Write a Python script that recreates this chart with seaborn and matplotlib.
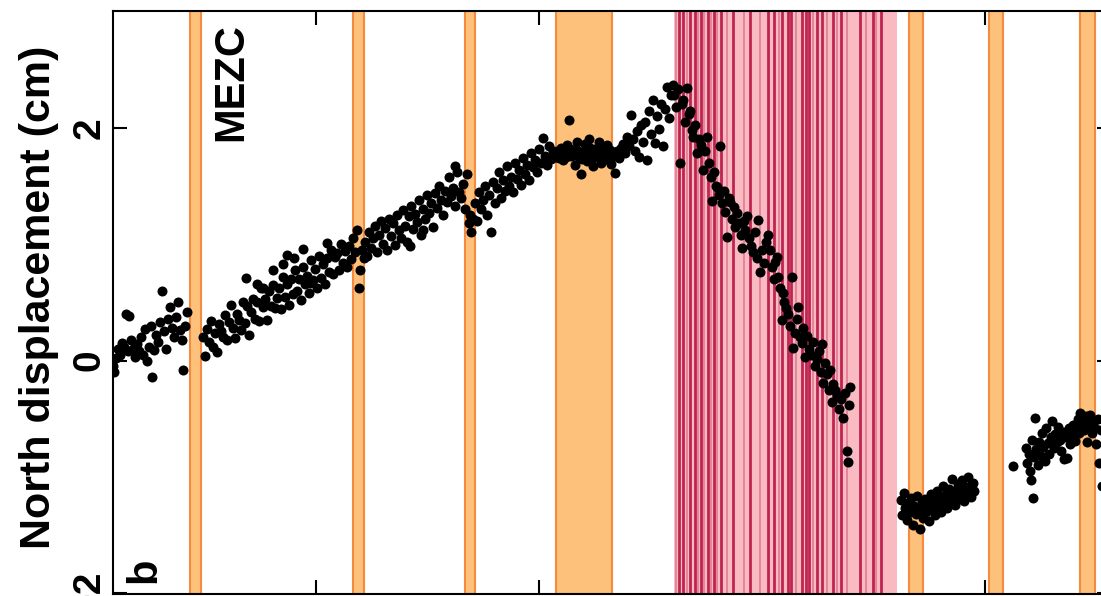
import pandas as pd
import seaborn as sns
import matplotlib.pyplot as plt

# GPS station MEZC, north component (cm) against day of record
seg_a = [(0, -0.05), (1, -0.10), (3, 0.02), (5, 0.10), (7, 0.05), (9, 0.15), (11, 0.12), (13, 0.40),
         (15, 0.08), (16, 0.38), (18, 0.18), (20, 0.10), (22, 0.03), (24, 0.14), (26, 0.08), (28, 0.20),
         (30, 0.05), (32, 0.27), (34, 0.00), (36, 0.12), (38, 0.30), (39, -0.14), (41, 0.09), (43, 0.22),
         (45, 0.16), (47, 0.33), (49, 0.60), (51, 0.25), (53, 0.10), (55, 0.36), (57, 0.46), (59, 0.28),
         (61, 0.20), (63, 0.37), (65, 0.50), (67, 0.26), (69, 0.18), (70, -0.08), (72, 0.30), (74, 0.42)]

seg_b = [(90, 0.20), (92, 0.04), (94, 0.27), (96, 0.16), (98, 0.34), (100, 0.12), (102, 0.24), (104, 0.07),
         (106, 0.31), (108, 0.25), (110, 0.20), (112, 0.39), (114, 0.18), (116, 0.33), (118, 0.48), (120, 0.28),
         (122, 0.19), (124, 0.40), (126, 0.35), (128, 0.26), (130, 0.50), (132, 0.32), (134, 0.47), (136, 0.22),
         (138, 0.42), (140, 0.53), (142, 0.36), (144, 0.50), (146, 0.34), (148, 0.62), (150, 0.46), (152, 0.53),
         (154, 0.35), (156, 0.60), (158, 0.47), (160, 0.65), (162, 0.45), (164, 0.54), (166, 0.62), (168, 0.44),
         (170, 0.72), (172, 0.55), (174, 0.66), (176, 0.48), (178, 0.70), (180, 0.57), (182, 0.78), (184, 0.60),
         (186, 0.70), (188, 0.52), (190, 0.80), (192, 0.66), (194, 0.73), (196, 0.58), (198, 0.86), (200, 0.69),
         (202, 0.79), (204, 0.62), (206, 0.90), (208, 0.71), (210, 0.83), (212, 0.66), (214, 0.88), (216, 0.76),
         (218, 0.95), (220, 0.74), (222, 0.89), (224, 0.92), (226, 0.78), (228, 1.00), (230, 0.84), (232, 0.94),
         (234, 0.80), (236, 0.98), (238, 0.87), (240, 1.05), (242, 0.93), (244, 1.12), (246, 0.62), (247, 0.78),
         (249, 0.95), (251, 0.88), (133, 0.71), (150, 0.62), (174, 0.91), (181, 0.88), (190, 0.96), (197, 0.67),
         (214, 1.01), (160, 0.78), (144, 0.66), (170, 0.83)]

seg_c = [(252, 1.02), (254, 0.90), (256, 1.10), (258, 0.97), (260, 1.05), (262, 1.16), (264, 0.93), (266, 1.08),
         (268, 1.20), (270, 1.00), (272, 1.14), (274, 0.95), (276, 1.22), (278, 1.07), (280, 1.18), (282, 0.99),
         (284, 1.25), (286, 1.12), (288, 1.05), (290, 1.29), (292, 1.16), (294, 1.02), (296, 1.24), (298, 1.33),
         (300, 1.13), (302, 1.26), (304, 1.19), (306, 1.38), (308, 1.08), (310, 1.30), (312, 1.22), (314, 1.42),
         (316, 1.27), (318, 1.35), (320, 1.15), (322, 1.44), (324, 1.31), (326, 1.50), (328, 1.38), (330, 1.25),
         (332, 1.46), (334, 1.36), (336, 1.58), (338, 1.41), (340, 1.48), (342, 1.33), (344, 1.62), (346, 1.45),
         (348, 1.40), (350, 1.52), (352, 1.30), (354, 1.60), (356, 1.18), (357, 1.25), (358, 1.10), (360, 1.22),
         (362, 1.35), (364, 1.20), (366, 1.45), (368, 1.30), (370, 1.38), (372, 1.50), (374, 1.25), (376, 1.42),
         (378, 1.10), (380, 1.53), (382, 1.35), (384, 1.48), (386, 1.62), (388, 1.40), (390, 1.55), (392, 1.46),
         (394, 1.67), (396, 1.50), (398, 1.58), (400, 1.45), (402, 1.70), (404, 1.56), (406, 1.64), (408, 1.51),
         (410, 1.74), (412, 1.60), (414, 1.68), (416, 1.55), (418, 1.78), (420, 1.66), (422, 1.72), (424, 1.62),
         (426, 1.82), (428, 1.70), (430, 1.91), (432, 1.76), (434, 1.68), (436, 1.84), (438, 1.73), (440, 1.80),
         (442, 1.75), (297, 0.98), (310, 1.12), (342, 1.67)]

seg_d = [(444, 1.80), (446, 1.74), (448, 1.83), (450, 1.72), (452, 1.78), (454, 1.85), (456, 2.07), (458, 1.76),
         (460, 1.81), (462, 1.68), (464, 1.88), (466, 1.75), (468, 1.60), (470, 1.79), (472, 1.86), (474, 1.71),
         (476, 1.90), (478, 1.77), (480, 1.67), (482, 1.82), (484, 1.76), (486, 1.88), (488, 1.70), (490, 1.80),
         (492, 1.73), (494, 1.85), (496, 1.78), (498, 1.69), (445, 1.77), (449, 1.79), (453, 1.75), (457, 1.82),
         (461, 1.77), (465, 1.80), (469, 1.73), (473, 1.78), (477, 1.83), (481, 1.75), (485, 1.79), (489, 1.84),
         (493, 1.76), (497, 1.81)]

seg_e = [(500, 1.76), (502, 1.61), (504, 1.80), (506, 1.74), (508, 1.83), (510, 1.86), (512, 1.78), (514, 1.92),
         (516, 1.84), (518, 2.11), (520, 1.90), (522, 1.80), (524, 1.97), (526, 1.75), (528, 2.02), (530, 1.88),
         (532, 2.05), (534, 1.72), (536, 2.14), (538, 1.95), (540, 2.24), (542, 1.87), (544, 2.10), (546, 1.99),
         (548, 2.20), (550, 1.84), (552, 2.16), (554, 2.35), (556, 2.08), (558, 2.28), (560, 2.37)]

seg_f = [(561, 2.28), (563, 2.18), (565, 2.33), (567, 1.70), (569, 2.20), (570, 2.24), (572, 2.05), (574, 2.34),
         (576, 2.12), (577, 2.14), (579, 1.98), (580, 1.92), (582, 2.02), (584, 1.78), (586, 1.90), (588, 1.85),
         (590, 1.64), (592, 1.80), (594, 1.92), (596, 1.70), (598, 1.58), (599, 1.37), (601, 1.62), (603, 1.50),
         (604, 1.49), (606, 1.42), (607, 1.84), (609, 1.35), (611, 1.46), (612, 1.28), (614, 1.06), (616, 1.40),
         (617, 1.36), (619, 1.22), (621, 1.32), (622, 1.15), (624, 1.27), (626, 1.18), (628, 1.08), (629, 0.97),
         (631, 1.20), (632, 1.12), (634, 1.24), (636, 1.05), (638, 0.98), (640, 0.93), (642, 1.10), (644, 0.88),
         (645, 1.21), (647, 0.76), (649, 0.95), (651, 0.84), (653, 1.02), (655, 1.08), (657, 0.95), (659, 0.80),
         (661, 0.70), (662, 0.85), (664, 0.89), (665, 0.72), (667, 0.62), (669, 0.35), (670, 0.58), (671, 0.50),
         (673, 0.45), (675, 0.40), (677, 0.30), (679, 0.72), (680, 0.11), (682, 0.24), (684, 0.36), (685, 0.46),
         (687, 0.20), (689, 0.15), (690, 0.28), (692, 0.03), (694, 0.21), (696, 0.10), (698, 0.05), (700, 0.16),
         (702, -0.05), (704, 0.01), (706, 0.08), (708, -0.10), (709, 0.14), (710, -0.19), (712, -0.02), (714, -0.12),
         (716, -0.25), (717, -0.08), (719, -0.36), (720, -0.20), (722, -0.25), (724, -0.30), (726, -0.42), (728, -0.33),
         (730, -0.49), (732, -0.28), (734, -0.78), (735, -0.87), (736, -0.38), (737, -0.23)]

seg_g = [(788, -1.20), (789, -1.33), (791, -1.14), (792, -1.27), (794, -1.37), (795, -1.22), (797, -1.30), (798, -1.18),
         (800, -1.41), (801, -1.25), (803, -1.32), (804, -1.16), (806, -1.28), (807, -1.45), (809, -1.22), (810, -1.35),
         (812, -1.19), (813, -1.30), (815, -1.24), (816, -1.38), (818, -1.15), (819, -1.27), (821, -1.21), (822, -1.33),
         (824, -1.12), (825, -1.25), (827, -1.18), (828, -1.30), (830, -1.08), (831, -1.22), (833, -1.15), (834, -1.27),
         (836, -1.10), (837, -1.20), (839, -1.02), (840, -1.17), (842, -1.24), (843, -1.11), (845, -1.06), (846, -1.19),
         (848, -1.14), (849, -1.03), (851, -1.21), (852, -1.09), (854, -1.13), (855, -1.00), (857, -1.08), (858, -1.17),
         (860, -1.05), (861, -1.12)]

seg_h = [(900, -0.91), (913, -0.75), (914, -0.88), (916, -0.80), (917, -0.95), (918, -1.03), (919, -0.68), (920, -1.18),
         (921, -0.83), (922, -0.49), (923, -0.76), (925, -0.90), (926, -0.70), (928, -0.82), (929, -0.62), (930, -0.74),
         (932, -0.86), (933, -0.58), (935, -0.71), (936, -0.80), (938, -0.66), (939, -0.52), (941, -0.75), (942, -0.63),
         (944, -0.70), (945, -0.57), (947, -0.68), (948, -0.78), (950, -0.61), (951, -0.85), (953, -0.66), (954, -0.84),
         (956, -0.58), (957, -0.72), (959, -0.64), (960, -0.55), (962, -0.69), (963, -0.60), (965, -0.50), (966, -0.62),
         (967, -0.45), (968, -0.56), (970, -0.52), (971, -0.60), (973, -0.48), (974, -0.70), (976, -0.55), (977, -0.47),
         (979, -0.62), (980, -0.52), (982, -0.58), (983, -0.72), (985, -0.50), (986, -0.88), (988, -0.60), (989, -1.08)]

# slow slip / tremor periods (start day, end day)
orange_periods = [(77, 88), (240, 251), (352, 362), (443, 499), (796, 810), (876, 890), (967, 982)]
swarm_period = (561, 784)
swarm_strong = [566, 570, 577, 582, 588, 595, 601, 608, 620, 637, 655, 661, 669, 675, 678,
                689, 693, 696, 704, 709, 720, 728, 747, 760, 768]
swarm_faint = [563, 574, 585, 591, 598, 604, 614, 631, 647, 666, 683, 700, 714, 724, 734, 753, 763]

sns.set_style('ticks')
plt.rcParams['font.family'] = ['Liberation Sans', 'DejaVu Sans']
plt.rcParams['text.color'] = 'black'
plt.rcParams['axes.labelcolor'] = 'black'
plt.rcParams['ytick.color'] = 'black'
plt.rcParams['xtick.color'] = 'black'

df = pd.DataFrame(seg_a + seg_b + seg_c + seg_d + seg_e + seg_f + seg_g + seg_h, columns=['day', 'north'])

fig = plt.figure(figsize=(11.01, 5.96), dpi=100)
ax = fig.add_axes([113 / 1101, 2 / 596, 998 / 1101, 583 / 596])

for a, b in orange_periods:
    ax.axvspan(a, b, facecolor='#FDC17C', edgecolor='#F58B3C', lw=1.5, zorder=1)
ax.axvspan(*swarm_period, facecolor='#F9BBC1', edgecolor='none', zorder=1)
for d in swarm_faint:
    ax.axvline(d, color='#D45B78', lw=1.3, alpha=0.6, zorder=1.5)
for d in swarm_strong:
    ax.axvline(d, color='#BE2450', lw=2.0, zorder=1.6)

sns.scatterplot(data=df, x='day', y='north', color='black', s=52, linewidth=0,
                ax=ax, zorder=3, legend=False)

ax.set_xlim(0, 998)
ax.set_ylim(-2.006, 3.003)
ax.set_xticks([203, 426, 649, 872])
ax.set_xticklabels([])
ax.set_yticks([-2, 0, 2])
ax.set_yticklabels(['\u22122', '0', '2'], rotation=90, va='center', fontsize=28, fontweight='bold')
ax.tick_params(direction='in', length=10, width=1.5, top=True, right=True, pad=4, colors='black')
ax.set_xlabel('')
ax.set_ylabel('North displacement (cm)', fontsize=31, fontweight='bold', color='black')
ax.yaxis.set_label_coords(-0.054, 0.509)
for sp in ax.spines.values():
    sp.set_linewidth(1.5)
    sp.set_color('black')
    sp.set_zorder(4)

ax.text(0.1182, 0.8774, 'MEZC', transform=ax.transAxes, rotation=90, ha='center', va='center',
        fontsize=30, fontweight='bold', color='black')
ax.text(0.0311, 0.041, 'b', transform=ax.transAxes, rotation=90, ha='center', va='center',
        fontsize=30, fontweight='bold', color='black')

fig.savefig('out.png', dpi=100)
